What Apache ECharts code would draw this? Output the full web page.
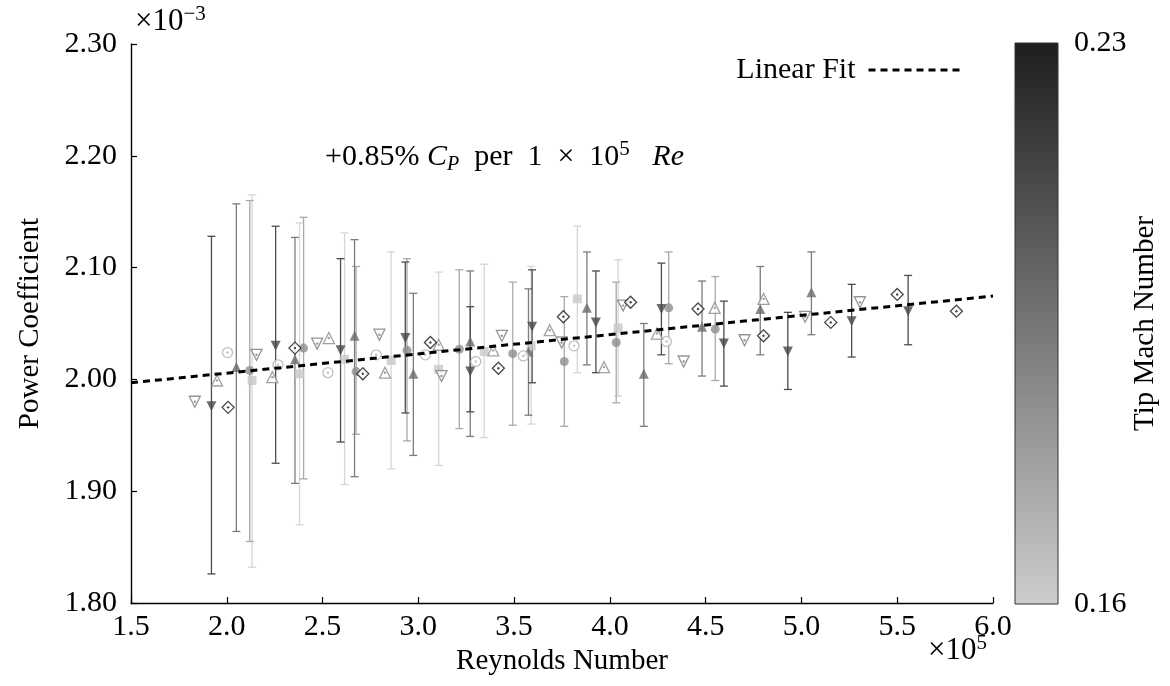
<!DOCTYPE html>
<html><head><meta charset="utf-8">
<script src="https://cdn.jsdelivr.net/npm/echarts@6/dist/echarts.min.js"></script>
<style>html,body{margin:0;padding:0;background:#fff}#c{width:1170px;height:686px}</style>
</head><body><div id="c"></div>
<script>
// ---- data: [Re (x1e5), Cp (x1e-3), low, high] ----
const filledDown = [
  [1.920, 1.976, 1.826, 2.128], [2.255, 2.030, 1.925, 2.137], [2.594, 2.026, 1.944, 2.108],
  [2.932, 2.037, 1.970, 2.105], [3.271, 2.007, 1.971, 2.065], [3.594, 2.047, 1.997, 2.098],
  [3.927, 2.051, 2.006, 2.097], [4.269, 2.063, 2.022, 2.104], [4.595, 2.032, 1.994, 2.070],
  [4.929, 2.025, 1.991, 2.060], [5.262, 2.052, 2.020, 2.085], [5.557, 2.061, 2.031, 2.093]
];
const filledUp = [
  [2.050, 2.011, 1.864, 2.157], [2.356, 2.018, 1.907, 2.127], [2.667, 2.039, 1.913, 2.125],
  [2.974, 2.005, 1.932, 2.077], [3.271, 2.034, 1.949, 2.097], [3.575, 2.025, 1.968, 2.081],
  [3.880, 2.064, 2.013, 2.114], [4.177, 2.005, 1.958, 2.050], [4.481, 2.047, 2.003, 2.088],
  [4.785, 2.063, 2.022, 2.101], [5.052, 2.078, 2.040, 2.114]
];
const filledCircle = [
  [2.120, 2.008, 1.855, 2.160], [2.401, 2.028, 1.911, 2.145], [2.675, 2.007, 1.951, 2.101],
  [2.941, 2.026, 1.945, 2.108], [3.214, 2.027, 1.956, 2.098], [3.493, 2.023, 1.959, 2.087],
  [3.762, 2.016, 1.958, 2.074], [4.033, 2.033, 1.979, 2.087], [4.307, 2.064, 2.014, 2.114],
  [4.550, 2.045, 1.999, 2.092]
];
const filledSquare = [
  [2.132, 1.999, 1.832, 2.165], [2.380, 2.005, 1.870, 2.140], [2.615, 2.018, 1.906, 2.131],
  [2.858, 2.017, 1.920, 2.114], [3.106, 2.009, 1.923, 2.096], [3.344, 2.025, 1.948, 2.103],
  [3.589, 2.030, 1.960, 2.101], [3.830, 2.072, 2.006, 2.137], [4.043, 2.046, 1.985, 2.107]
];
const openCircle = [
  [2.004, 2.024], [2.267, 2.013], [2.528, 2.006], [2.780, 2.022], [3.036, 2.022],
  [3.300, 2.016], [3.548, 2.021], [3.813, 2.030], [4.295, 2.034]
];
const openUp = [
  [1.949, 1.999], [2.238, 2.002], [2.533, 2.037], [2.826, 2.006], [3.106, 2.031], [3.391, 2.026],
  [3.686, 2.044], [3.969, 2.011], [4.246, 2.041], [4.547, 2.064], [4.802, 2.072]
];
const openDown = [
  [1.833, 1.980], [2.155, 2.022], [2.472, 2.032], [2.797, 2.040], [3.121, 2.003], [3.436, 2.039],
  [3.748, 2.033], [4.069, 2.066], [4.385, 2.016], [4.703, 2.035], [5.019, 2.056], [5.305, 2.069]
];
const openDiamond = [
  [2.007, 1.975], [2.356, 2.028], [2.710, 2.005], [3.063, 2.033], [3.418, 2.010], [3.757, 2.056],
  [4.108, 2.069], [4.460, 2.063], [4.802, 2.039], [5.153, 2.051], [5.500, 2.076], [5.809, 2.061]
];
const fitLine = [[1.5, 1.997], [6.0, 2.0745]];
const machRange = [0.16, 0.23];
const xRange = [1.5, 6.0, 0.5];
const yRange = [1.80, 2.30, 0.10];

// ---- style ----
const FONT = 'Liberation Serif';
const chart = echarts.init(document.getElementById('c'));

function errRender(params, api) {
  const x = api.value(0), lo = api.value(2), hi = api.value(3);
  const a = api.coord([x, lo]), b = api.coord([x, hi]);
  const w = 4;
  const st = { stroke: api.visual('color'), lineWidth: 1.3, fill: null };
  return { type: 'group', children: [
    { type: 'line', shape: { x1: a[0], y1: a[1], x2: b[0], y2: b[1] }, style: st },
    { type: 'line', shape: { x1: a[0] - w, y1: a[1], x2: a[0] + w, y2: a[1] }, style: st },
    { type: 'line', shape: { x1: b[0] - w, y1: b[1], x2: b[0] + w, y2: b[1] }, style: st }
  ]};
}
function errSeries(data, color) {
  return { type: 'custom', renderItem: errRender, data: data, encode: { x: 0, y: [1, 2, 3] },
    itemStyle: { color: color }, z: 2, silent: true };
}
function filled(data, symbol, size, color, rot) {
  return { type: 'scatter', data: data.map(d => [d[0], d[1]]), symbol: symbol, symbolSize: size,
    symbolRotate: rot || 0, itemStyle: { color: color }, z: 3, silent: true };
}
function open(data, symbol, size, color, rot) {
  return [
    { type: 'scatter', data: data, symbol: symbol, symbolSize: size, symbolRotate: rot || 0,
      itemStyle: { color: '#fff', borderColor: color, borderWidth: 1.3 }, z: 3, silent: true },
    { type: 'scatter', data: data, symbol: 'circle', symbolSize: 2.4,
      itemStyle: { color: color }, z: 4, silent: true }
  ];
}

function colorbarRender(params, api) {
  const a = api.coord([0, api.value(1)]), b = api.coord([1, api.value(2)]);
  return { type: 'rect', shape: { x: a[0], y: b[1], width: b[0] - a[0], height: a[1] - b[1] },
    style: { fill: new echarts.graphic.LinearGradient(0, 0, 0, 1, [
      { offset: 0, color: '#1e1e1e' }, { offset: 1, color: '#cdcdcd' }]),
      stroke: '#333', lineWidth: 1 } };
}
const sup = { fontSize: 21, fontFamily: FONT, fill: '#000', lineHeight: 20, verticalAlign: 'top' };
const fitStyle = { color: '#000', width: 3, type: [7, 5] };

const option = {
  animation: false,
  backgroundColor: '#fff',
  textStyle: { fontFamily: FONT },
  grid: [
    { left: 131, top: 44, width: 862, height: 559 },
    { left: 1015, top: 43, width: 43, height: 561 }
  ],
  xAxis: [
    { gridIndex: 0, type: 'value', min: xRange[0], max: xRange[1], interval: xRange[2],
      axisLine: { lineStyle: { color: '#000', width: 1.4 } },
      axisTick: { inside: true, length: 6, lineStyle: { color: '#000', width: 1.2 } },
      splitLine: { show: false },
      axisLabel: { formatter: v => v.toFixed(1), color: '#000', fontSize: 30, fontFamily: FONT, margin: 9 },
      name: 'Reynolds Number', nameLocation: 'middle', nameGap: 35,
      nameTextStyle: { color: '#000', fontSize: 29, fontFamily: FONT } },
    { gridIndex: 1, type: 'value', min: 0, max: 1, show: false }
  ],
  yAxis: [
    { gridIndex: 0, type: 'value', min: yRange[0], max: yRange[1], interval: yRange[2],
      axisLine: { lineStyle: { color: '#000', width: 1.4 } },
      axisTick: { inside: true, length: 6, lineStyle: { color: '#000', width: 1.2 } },
      splitLine: { show: false },
      axisLabel: { formatter: v => v.toFixed(2), color: '#000', fontSize: 30, fontFamily: FONT, margin: 14 },
      name: 'Power Coefficient', nameLocation: 'middle', nameGap: 86,
      nameTextStyle: { color: '#000', fontSize: 29, fontFamily: FONT } },
    { gridIndex: 1, type: 'value', position: 'right', min: machRange[0], max: machRange[1],
      interval: +(machRange[1] - machRange[0]).toFixed(2),
      axisLine: { show: false }, axisTick: { show: false }, splitLine: { show: false },
      axisLabel: { formatter: v => v.toFixed(2), color: '#000', fontSize: 30, fontFamily: FONT, margin: 16 },
      name: 'Tip Mach Number', nameLocation: 'middle', nameGap: 70, nameRotate: 90,
      nameTextStyle: { color: '#000', fontSize: 29, fontFamily: FONT } }
  ],
  legend: {
    data: ['Linear Fit'], right: 202, top: 50, align: 'right', itemWidth: 93, itemHeight: 14,
    itemStyle: { color: 'rgba(0,0,0,0)', borderColor: 'rgba(0,0,0,0)', borderWidth: 0 },
    lineStyle: fitStyle,
    textStyle: { fontSize: 30, fontFamily: FONT, color: '#000', padding: [0, 8, 0, 0] }
  },
  graphic: [
    { type: 'text', left: 135, top: 4, style: { text: '{a|×10}{s|−3}', rich: {
      a: { fontSize: 31, fontFamily: FONT, fill: '#000', lineHeight: 36 }, s: sup } } },
    { type: 'text', left: 928, top: 633, style: { text: '{a|×10}{s|5}', rich: {
      a: { fontSize: 31, fontFamily: FONT, fill: '#000', lineHeight: 36 }, s: sup } } },
    { type: 'text', left: 325, top: 139, style: {
      text: '{a|+0.85% }{i|C}{sub|P}{a|  per  1  ×  10}{s|5}{a|   }{i|Re}', rich: {
      a: { fontSize: 30, fontFamily: FONT, fill: '#000', lineHeight: 36 },
      i: { fontSize: 30, fontFamily: FONT, fontStyle: 'italic', fill: '#000', lineHeight: 36 },
      sub: { fontSize: 20, fontFamily: FONT, fontStyle: 'italic', fill: '#000', lineHeight: 20, verticalAlign: 'bottom' },
      s: sup } } }
  ],
  series: [
    errSeries(filledSquare, '#d6d6d6'),
    errSeries(filledCircle, '#a9a9a9'),
    errSeries(filledUp, '#7c7c7c'),
    errSeries(filledDown, '#4c4c4c'),
    filled(filledSquare, 'rect', 9, '#c8c8c8'),
    filled(filledCircle, 'circle', 9, '#8f8f8f'),
    filled(filledUp, 'triangle', 10, '#6b6b6b'),
    filled(filledDown, 'triangle', 10, '#474747', 180),
    ...open(openCircle, 'circle', 10, '#b0b0b0'),
    ...open(openUp, 'triangle', 11, '#8a8a8a'),
    ...open(openDown, 'triangle', 11, '#7a7a7a', 180),
    ...open(openDiamond, 'diamond', 12, '#1a1a1a'),
    { name: 'Linear Fit', type: 'line', data: fitLine, symbol: 'none', z: 5, silent: true,
      lineStyle: fitStyle, itemStyle: { color: '#000' } },
    { type: 'custom', xAxisIndex: 1, yAxisIndex: 1, renderItem: colorbarRender,
      data: [[0, machRange[0], machRange[1]]], encode: { x: 0, y: [1, 2] }, silent: true }
  ]
};
chart.setOption(option);
</script></body></html>
